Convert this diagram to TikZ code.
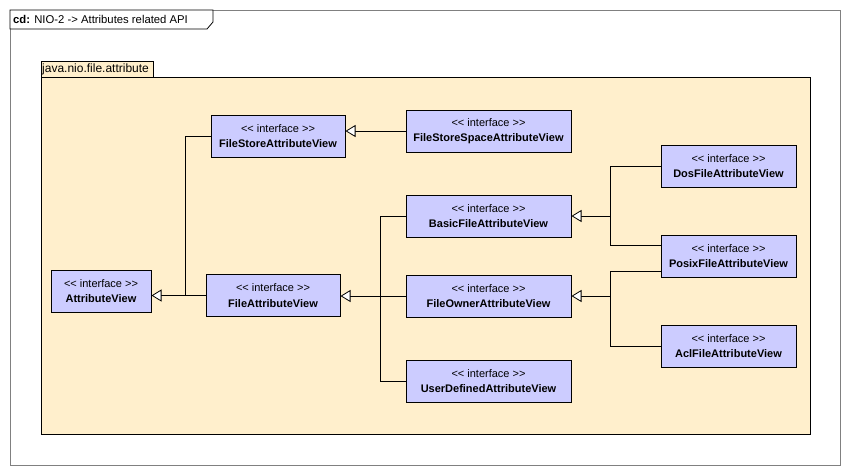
\documentclass[tikz,border=0pt]{standalone}
\usepackage{fontspec}
\setmainfont{Liberation Sans}
\usepackage{xcolor}
\usetikzlibrary{arrows.meta,calc}
\definecolor{ifacefill}{RGB}{204,204,255}
\definecolor{pkgfill}{RGB}{255,239,204}
\definecolor{framegray}{RGB}{128,128,128}
\newcommand{\stereo}{<{}< interface >{}>}

\begin{document}
\begin{tikzpicture}[
    x=1pt, y=-1pt,
    iface/.style={rectangle, draw=black, fill=ifacefill, line width=1pt, align=center, minimum height=42pt, inner sep=2pt, font=\fontsize{11}{15.5}\selectfont},
    inherit/.style={-{Triangle[open, length=10pt, width=12pt, fill=white]}, line width=0.8pt},
    link/.style={line width=0.8pt}
]
\useasboundingbox (0,0) rectangle (850,475);

% Diagram frame
\draw[framegray, line width=1pt] (10,10) rectangle (840,465);
\draw[fill=white, line width=0.8pt] (10,10) -- (213,10) -- (213,22) -- (207,29) -- (10,29) -- cycle;
\node[anchor=west, inner sep=0pt, font=\fontsize{11.3}{13}\selectfont] (title) at (13,19.5) {\textbf{cd:} NIO-2 -{}> Attributes related API};

% Package
\draw[fill=pkgfill, line width=1pt] (41,77) rectangle (810,434);
\draw[fill=pkgfill, line width=1pt] (41,61) rectangle (153,77);
\node[anchor=west, inner sep=0pt, font=\fontsize{12}{13}\selectfont] (pkglabel) at (42,69.5) {java.nio.file.attribute};

% Root interface
\node[iface, minimum width=100pt] (attr) at (101,291) {\stereo\\\textbf{AttributeView}};

% Second level
\node[iface, minimum width=134pt] (fstore) at (278,136) {\stereo\\\textbf{FileStoreAttributeView}};
\node[iface, minimum width=134pt] (fattr) at (273,295.5) {\stereo\\\textbf{FileAttributeView}};

% Third level
\node[iface, minimum width=165pt] (fsspace) at (488.5,131) {\stereo\\\textbf{FileStoreSpaceAttributeView}};
\node[iface, minimum width=165pt] (basic) at (488.5,216) {\stereo\\\textbf{BasicFileAttributeView}};
\node[iface, minimum width=165pt] (owner) at (488.5,296) {\stereo\\\textbf{FileOwnerAttributeView}};
\node[iface, minimum width=165pt] (udef) at (488.5,381) {\stereo\\\textbf{UserDefinedAttributeView}};

% Fourth level
\node[iface, minimum width=135pt] (dos) at (728.5,166) {\stereo\\\textbf{DosFileAttributeView}};
\node[iface, minimum width=135pt] (posix) at (728.5,256) {\stereo\\\textbf{PosixFileAttributeView}};
\node[iface, minimum width=135pt] (acl) at (728.5,346) {\stereo\\\textbf{AclFileAttributeView}};

% Junctions
\coordinate (j1) at (185,295.5);
\coordinate (j2) at (380,296);
\coordinate (j3) at (610,216);
\coordinate (j4) at (610,296);

% Generalizations
\draw[link] (fstore.west) -| (j1);
\draw[inherit] (fattr.west) -- (fattr.west -| attr.east);
\draw[inherit] (fsspace.west) -- (fsspace.west -| fstore.east);

\draw[link] (basic.west) -| (j2);
\draw[link] (udef.west) -| (j2);
\draw[inherit] (owner.west) -- (owner.west -| fattr.east);

\draw[link] (dos.west) -| (j3);
\draw[link] ($(posix.west)+(0,-11)$) -| (j3);
\draw[inherit] (j3) -- (basic.east);

\draw[link] ($(posix.west)+(0,15)$) -| (j4);
\draw[link] (acl.west) -| (j4);
\draw[inherit] (j4) -- (owner.east);

\end{tikzpicture}
\end{document}
